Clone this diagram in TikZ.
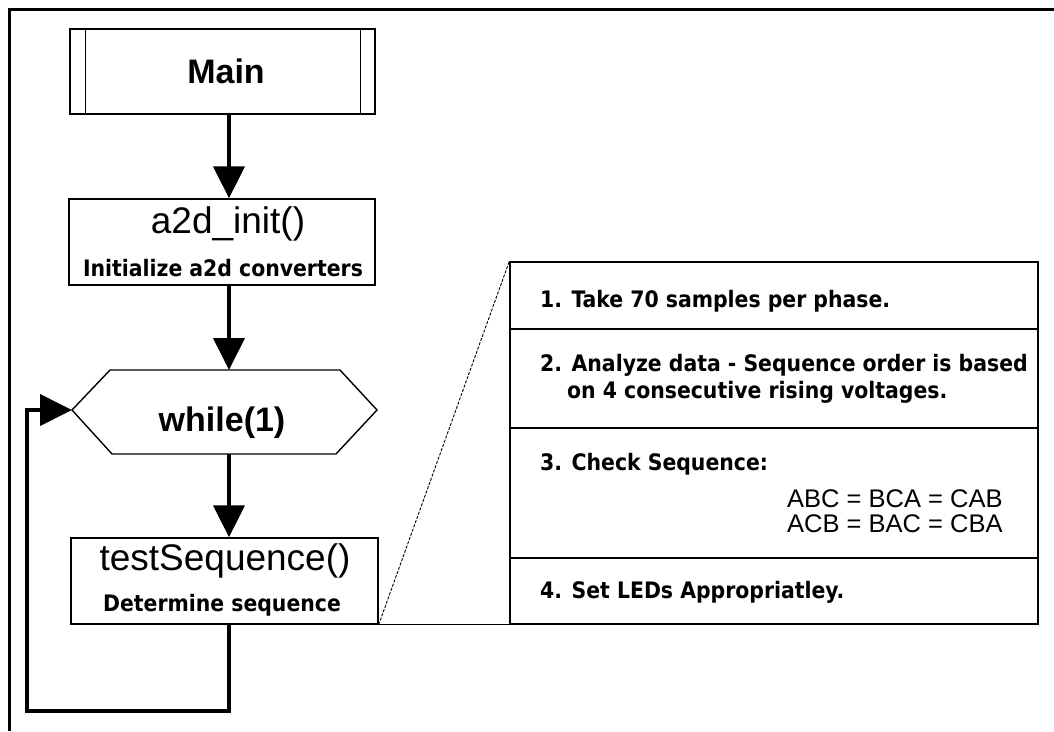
\documentclass[tikz,border=0pt]{standalone}
\usepackage{fontspec}
\setmainfont{Liberation Sans}
\newfontfamily\tah{DejaVu Sans Condensed}
\usetikzlibrary{arrows.meta,calc}

\tikzset{
  box/.style={draw,line width=1.4pt,rectangle,inner sep=0pt},
  flow/.style={line width=4pt,-{Triangle[width=31pt,length=32pt]}},
  thin rule/.style={line width=1.4pt},
  title/.style={inner sep=0pt,anchor=base,font=\fontsize{34}{38}\selectfont\bfseries},
  fname/.style={inner sep=0pt,anchor=base,font=\fontsize{37}{42}\selectfont},
  note/.style={inner sep=0pt,anchor=base,font=\tah\bfseries\fontsize{22.7}{27}\selectfont},
  item/.style={inner sep=0pt,anchor=base west,font=\tah\bfseries\fontsize{22.7}{27}\selectfont},
  eqn/.style={inner sep=0pt,anchor=base west,font=\fontsize{25.5}{30}\selectfont},
}

\begin{document}
\begin{tikzpicture}[x=1pt,y=-1pt]
  \useasboundingbox (0,0) rectangle (1054,731);

  % outer frame (open at right and bottom)
  \draw[line width=3pt] (9,731) -- (9,9) -- (1054,9);

  % column through which the flow arrows run
  \coordinate (colx) at (229,0);

  % Main: predefined-process box
  \node[box,minimum width=305pt,minimum height=85pt] (main) at (222.5,71.5) {};
  \draw[thin rule] ($(main.north west)+(16,0)$) -- ($(main.south west)+(16,0)$);
  \draw[thin rule] ($(main.north east)+(-15,0)$) -- ($(main.south east)+(-15,0)$);
  \node[title] (maint) at (226,83) {Main};

  % a2d_init()
  \node[box,minimum width=306pt,minimum height=86pt] (a2d) at (222,242) {};
  \node[fname] (a2dt) at (228,233) {a2d\_init()};
  \node[note] (a2dn) at (223,276) {Initialize a2d converters};

  % while(1) hexagon
  \coordinate (hw) at (72,410);
  \coordinate (he) at (377,410);
  \coordinate (hn) at (229,370);
  \coordinate (hs) at (229,454);
  \draw[thin rule] (hw) -- (110,370) -- (340,370) -- (he) -- (336,454) -- (112,454) -- cycle;
  \node[title] (whilet) at (222,431) {while(1)};

  % testSequence()
  \node[box,minimum width=307pt,minimum height=86pt] (ts) at (224.5,581) {};
  \node[fname] (tst) at (225,570) {testSequence()};
  \node[note] (tsn) at (222,611) {Determine sequence};

  % flow arrows
  \draw[flow] (main.south -| colx) -- (a2d.north -| colx);
  \draw[flow] (a2d.south -| colx) -- (hn);
  \draw[flow] (hs) -- (ts.north -| colx);

  % loop back to while(1)
  \coordinate (lp) at (27,711);
  \draw[flow,line join=miter] (ts.south -| colx) |- (lp) |- (hw);

  % detail table
  \node[box,minimum width=528pt,minimum height=362pt] (tbl) at (774,443) {};
  \coordinate (r1) at (0,329);
  \coordinate (r2) at (0,428);
  \coordinate (r3) at (0,558);
  \draw[thin rule] (tbl.west |- r1) -- (tbl.east |- r1);
  \draw[thin rule] (tbl.west |- r2) -- (tbl.east |- r2);
  \draw[thin rule] (tbl.west |- r3) -- (tbl.east |- r3);

  \node[item] (s1) at (540,307) {1. Take 70 samples per phase.};
  \node[item] (s2a) at (540,371) {2. Analyze data - Sequence order is based};
  \node[item] (s2b) at (567,398) {on 4 consecutive rising voltages.};
  \node[item] (s3) at (540,470) {3. Check Sequence:};
  \node[eqn] (e1) at (787,507) {ABC = BCA = CAB};
  \node[eqn] (e2) at (787,532) {ACB = BAC = CBA};
  \node[item] (s4) at (540,598) {4. Set LEDs Appropriatley.};

  % expansion lines from testSequence() to the table
  \draw[line width=0.9pt] (ts.south east) -- (tbl.south west);
  \draw[line width=0.9pt,dash pattern=on 3pt off 1.5pt] (ts.south east) -- (tbl.north west);
\end{tikzpicture}
\end{document}
